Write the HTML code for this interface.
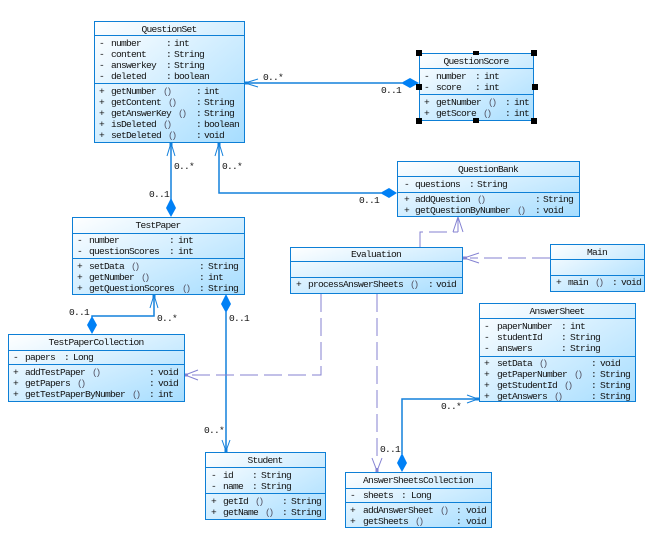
<!DOCTYPE html>
<html lang="en">
<head>
<meta charset="utf-8">
<title>Class diagram</title>
<style>
html,body{margin:0;padding:0;background:#fff;width:670px;height:555px;overflow:hidden}
svg{display:block}
text{font-family:"Liberation Mono","DejaVu Sans Mono",monospace;font-size:9.6px;letter-spacing:-.76px;fill:#111}
.t{text-anchor:middle}
.p{letter-spacing:-2.4px;fill:#556}
.b{fill:url(#g);stroke:#0d7fd6;stroke-width:1}
.s{stroke:#0d7fd6;stroke-width:1;fill:none}
.l{stroke:#1380dc;stroke-width:1.5;fill:none}
.a{stroke:#1380dc;stroke-width:1;fill:none}
.d{fill:#0080f5}
.v{stroke:#8482d2;stroke-width:1;fill:none;stroke-dasharray:18 6;shape-rendering:crispEdges}
.h{stroke:#8482d2;stroke-width:1;fill:none}
.k{fill:#000}
.o{fill:#1380dc}
.q{fill:#8482d2}
</style>
</head>
<body>
<svg width="670" height="555" viewBox="0 0 670 555" xmlns="http://www.w3.org/2000/svg">
<defs>
<linearGradient id="g" x1="0" y1="0" x2="1" y2="1">
<stop offset="0" stop-color="#ffffff"/>
<stop offset="1" stop-color="#a6ddff"/>
</linearGradient>
</defs>

<!-- connectors -->
<path class="l" d="M244 83H402"/>
<polygon class="d" points="401,83 410,78 419,83 410,88"/>
<path class="a" d="M258 79L245 83L258 87"/>
<rect class="o" x="244" y="81.500" width="4" height="3"/>
<path class="l" d="M171 142V200"/>
<polygon class="d" points="171,198 176,208 171,217 166,208"/>
<path class="a" d="M167 156L171 143L175 156"/>
<rect class="o" x="169.500" y="142" width="3" height="4"/>
<path class="l" d="M219 142V193H381"/>
<polygon class="d" points="380,193 389,188 397,193 389,198"/>
<path class="a" d="M215 156L219 143L223 156"/>
<rect class="o" x="217.500" y="142" width="3" height="4"/>
<path class="l" d="M92 317V316H154V294"/>
<polygon class="d" points="92,316 97,325 92,334 87,325"/>
<path class="a" d="M150 308L154 295L158 308"/>
<rect class="o" x="152.500" y="294" width="3" height="4"/>
<path class="l" d="M226 312V452"/>
<polygon class="d" points="226,294 231,304 226,313 221,304"/>
<path class="a" d="M222 440L226 451L230 440"/>
<rect class="o" x="224.500" y="448" width="3" height="4"/>
<path class="l" d="M402 454V399H479"/>
<polygon class="d" points="402,453 407,463 402,472 397,463"/>
<path class="a" d="M467 395L478 399L467 403"/>
<rect class="o" x="475" y="397.500" width="4" height="3"/>

<path class="v" d="M550 258H470"/>
<path class="h" d="M479 253L464 258L479 263"/>
<rect class="q" x="463" y="256.500" width="4" height="3"/>
<path class="v" d="M420 247V232H458"/>
<path class="h" d="M458 232V217M453 232L458 217L463 232"/>
<path class="v" d="M321 294V375H192"/>
<path class="h" d="M198 370L185 375L198 380"/>
<rect class="q" x="184" y="373.500" width="4" height="3"/>
<path class="v" d="M377 294V462"/>
<path class="h" d="M372 458L377 471L382 458"/>
<rect class="q" x="375.500" y="468" width="3" height="4"/>

<!-- QuestionSet -->
<rect class="b" x="94.500" y="21.500" width="150" height="121"/>
<path class="s" d="M94 35.500H245M94 83.500H245"/>
<text class="t" x="169" y="32">QuestionSet</text>
<text y="46"><tspan x="99">-</tspan><tspan x="111">number</tspan><tspan x="166">:</tspan><tspan x="174">int</tspan></text>
<text y="57"><tspan x="99">-</tspan><tspan x="111">content</tspan><tspan x="166">:</tspan><tspan x="174">String</tspan></text>
<text y="68"><tspan x="99">-</tspan><tspan x="111">answerkey</tspan><tspan x="166">:</tspan><tspan x="174">String</tspan></text>
<text y="79"><tspan x="99">-</tspan><tspan x="111">deleted</tspan><tspan x="166">:</tspan><tspan x="174">boolean</tspan></text>
<text y="94"><tspan x="99">+</tspan><tspan x="111">getNumber</tspan><tspan class="p" x="163">()</tspan><tspan x="196">:</tspan><tspan x="204">int</tspan></text>
<text y="105"><tspan x="99">+</tspan><tspan x="111">getContent</tspan><tspan class="p" x="168">()</tspan><tspan x="196">:</tspan><tspan x="204">String</tspan></text>
<text y="116"><tspan x="99">+</tspan><tspan x="111">getAnswerKey</tspan><tspan class="p" x="178">()</tspan><tspan x="196">:</tspan><tspan x="204">String</tspan></text>
<text y="127"><tspan x="99">+</tspan><tspan x="111">isDeleted</tspan><tspan class="p" x="163">()</tspan><tspan x="196">:</tspan><tspan x="204">boolean</tspan></text>
<text y="138"><tspan x="99">+</tspan><tspan x="111">setDeleted</tspan><tspan class="p" x="168">()</tspan><tspan x="196">:</tspan><tspan x="204">void</tspan></text>

<!-- QuestionScore -->
<rect class="b" x="419.500" y="53.500" width="114" height="67"/>
<path class="s" d="M419 68.500H534M419 94.500H534"/>
<text class="t" x="476" y="64">QuestionScore</text>
<text y="79"><tspan x="424">-</tspan><tspan x="436">number</tspan><tspan x="475">:</tspan><tspan x="484">int</tspan></text>
<text y="90"><tspan x="424">-</tspan><tspan x="436">score</tspan><tspan x="475">:</tspan><tspan x="484">int</tspan></text>
<text y="105"><tspan x="424">+</tspan><tspan x="436">getNumber</tspan><tspan class="p" x="488">()</tspan><tspan x="505">:</tspan><tspan x="514">int</tspan></text>
<text y="116"><tspan x="424">+</tspan><tspan x="436">getScore</tspan><tspan class="p" x="483">()</tspan><tspan x="505">:</tspan><tspan x="514">int</tspan></text>
<rect class="k" x="416" y="50" width="6" height="6"/><rect class="k" x="473" y="51" width="6" height="4"/><rect class="k" x="531" y="50" width="6" height="6"/>
<rect class="k" x="416" y="84" width="6" height="6"/><rect class="k" x="532" y="84" width="6" height="6"/>
<rect class="k" x="416" y="118" width="6" height="6"/><rect class="k" x="473" y="118" width="6" height="5"/><rect class="k" x="531" y="118" width="6" height="6"/>

<!-- QuestionBank -->
<rect class="b" x="397.500" y="161.500" width="182" height="55"/>
<path class="s" d="M397 176.500H580M397 192.500H580"/>
<text class="t" x="488" y="172">QuestionBank</text>
<text y="187"><tspan x="404">-</tspan><tspan x="415">questions</tspan><tspan x="469">:</tspan><tspan x="477">String</tspan></text>
<text y="202"><tspan x="404">+</tspan><tspan x="415">addQuestion</tspan><tspan class="p" x="477">()</tspan><tspan x="535">:</tspan><tspan x="543">String</tspan></text>
<text y="213"><tspan x="404">+</tspan><tspan x="415">getQuestionByNumber</tspan><tspan class="p" x="517">()</tspan><tspan x="535">:</tspan><tspan x="543">void</tspan></text>

<!-- TestPaper -->
<rect class="b" x="72.500" y="217.500" width="172" height="77"/>
<path class="s" d="M72 233.500H245M72 258.500H245"/>
<text class="t" x="158" y="228">TestPaper</text>
<text y="243"><tspan x="77">-</tspan><tspan x="89">number</tspan><tspan x="169">:</tspan><tspan x="178">int</tspan></text>
<text y="254"><tspan x="77">-</tspan><tspan x="89">questionScores</tspan><tspan x="169">:</tspan><tspan x="178">int</tspan></text>
<text y="269"><tspan x="77">+</tspan><tspan x="89">setData</tspan><tspan class="p" x="131">()</tspan><tspan x="199">:</tspan><tspan x="208">String</tspan></text>
<text y="280"><tspan x="77">+</tspan><tspan x="89">getNumber</tspan><tspan class="p" x="141">()</tspan><tspan x="199">:</tspan><tspan x="208">int</tspan></text>
<text y="291"><tspan x="77">+</tspan><tspan x="89">getQuestionScores</tspan><tspan class="p" x="182">()</tspan><tspan x="199">:</tspan><tspan x="208">String</tspan></text>

<!-- Evaluation -->
<rect class="b" x="290.500" y="247.500" width="172" height="46"/>
<path class="s" d="M290 261.500H463M290 277.500H463"/>
<text class="t" x="376" y="257">Evaluation</text>
<text y="287"><tspan x="296">+</tspan><tspan x="308">processAnswerSheets</tspan><tspan class="p" x="410">()</tspan><tspan x="428">:</tspan><tspan x="436">void</tspan></text>

<!-- Main -->
<rect class="b" x="550.500" y="244.500" width="94" height="47"/>
<path class="s" d="M550 259.500H645M550 275.500H645"/>
<text class="t" x="597" y="255">Main</text>
<text y="285"><tspan x="556">+</tspan><tspan x="568">main</tspan><tspan class="p" x="595">()</tspan><tspan x="612">:</tspan><tspan x="621">void</tspan></text>

<!-- AnswerSheet -->
<rect class="b" x="479.500" y="303.500" width="156" height="98"/>
<path class="s" d="M479 318.500H636M479 356.500H636"/>
<text class="t" x="557" y="314">AnswerSheet</text>
<text y="329"><tspan x="484">-</tspan><tspan x="497">paperNumber</tspan><tspan x="561">:</tspan><tspan x="570">int</tspan></text>
<text y="340"><tspan x="484">-</tspan><tspan x="497">studentId</tspan><tspan x="561">:</tspan><tspan x="570">String</tspan></text>
<text y="351"><tspan x="484">-</tspan><tspan x="497">answers</tspan><tspan x="561">:</tspan><tspan x="570">String</tspan></text>
<text y="366"><tspan x="484">+</tspan><tspan x="497">setData</tspan><tspan class="p" x="539">()</tspan><tspan x="591">:</tspan><tspan x="600">void</tspan></text>
<text y="377"><tspan x="484">+</tspan><tspan x="497">getPaperNumber</tspan><tspan class="p" x="574">()</tspan><tspan x="591">:</tspan><tspan x="600">String</tspan></text>
<text y="388"><tspan x="484">+</tspan><tspan x="497">getStudentId</tspan><tspan class="p" x="564">()</tspan><tspan x="591">:</tspan><tspan x="600">String</tspan></text>
<text y="399"><tspan x="484">+</tspan><tspan x="497">getAnswers</tspan><tspan class="p" x="554">()</tspan><tspan x="591">:</tspan><tspan x="600">String</tspan></text>

<!-- TestPaperCollection -->
<rect class="b" x="8.500" y="334.500" width="176" height="67"/>
<path class="s" d="M8 350.500H185M8 364.500H185"/>
<text class="t" x="96" y="345">TestPaperCollection</text>
<text y="360"><tspan x="13">-</tspan><tspan x="25">papers</tspan><tspan x="64">:</tspan><tspan x="73">Long</tspan></text>
<text y="375"><tspan x="13">+</tspan><tspan x="25">addTestPaper</tspan><tspan class="p" x="92">()</tspan><tspan x="149">:</tspan><tspan x="158">void</tspan></text>
<text y="386"><tspan x="13">+</tspan><tspan x="25">getPapers</tspan><tspan class="p" x="77">()</tspan><tspan x="149">:</tspan><tspan x="158">void</tspan></text>
<text y="397"><tspan x="13">+</tspan><tspan x="25">getTestPaperByNumber</tspan><tspan class="p" x="132">()</tspan><tspan x="149">:</tspan><tspan x="158">int</tspan></text>

<!-- Student -->
<rect class="b" x="205.500" y="452.500" width="120" height="67"/>
<path class="s" d="M205 467.500H326M205 493.500H326"/>
<text class="t" x="265" y="463">Student</text>
<text y="478"><tspan x="211">-</tspan><tspan x="223">id</tspan><tspan x="252">:</tspan><tspan x="261">String</tspan></text>
<text y="489"><tspan x="211">-</tspan><tspan x="223">name</tspan><tspan x="252">:</tspan><tspan x="261">String</tspan></text>
<text y="504"><tspan x="211">+</tspan><tspan x="223">getId</tspan><tspan class="p" x="255">()</tspan><tspan x="282">:</tspan><tspan x="291">String</tspan></text>
<text y="515"><tspan x="211">+</tspan><tspan x="223">getName</tspan><tspan class="p" x="265">()</tspan><tspan x="282">:</tspan><tspan x="291">String</tspan></text>

<!-- AnswerSheetsCollection -->
<rect class="b" x="345.500" y="472.500" width="146" height="55"/>
<path class="s" d="M345 488.500H492M345 502.500H492"/>
<text class="t" x="418" y="483">AnswerSheetsCollection</text>
<text y="498"><tspan x="350">-</tspan><tspan x="363">sheets</tspan><tspan x="401">:</tspan><tspan x="411">Long</tspan></text>
<text y="513"><tspan x="350">+</tspan><tspan x="363">addAnswerSheet</tspan><tspan class="p" x="440">()</tspan><tspan x="456">:</tspan><tspan x="466">void</tspan></text>
<text y="524"><tspan x="350">+</tspan><tspan x="363">getSheets</tspan><tspan class="p" x="415">()</tspan><tspan x="456">:</tspan><tspan x="466">void</tspan></text>

<!-- multiplicity labels -->
<text x="263" y="80">0..*</text>
<text x="381" y="93">0..1</text>
<text x="174" y="169">0..*</text>
<text x="149" y="197">0..1</text>
<text x="222" y="169">0..*</text>
<text x="359" y="203">0..1</text>
<text x="69" y="315">0..1</text>
<text x="157" y="321">0..*</text>
<text x="229" y="321">0..1</text>
<text x="204" y="433">0..*</text>
<text x="441" y="409">0..*</text>
<text x="380" y="452">0..1</text>
</svg>
</body>
</html>
